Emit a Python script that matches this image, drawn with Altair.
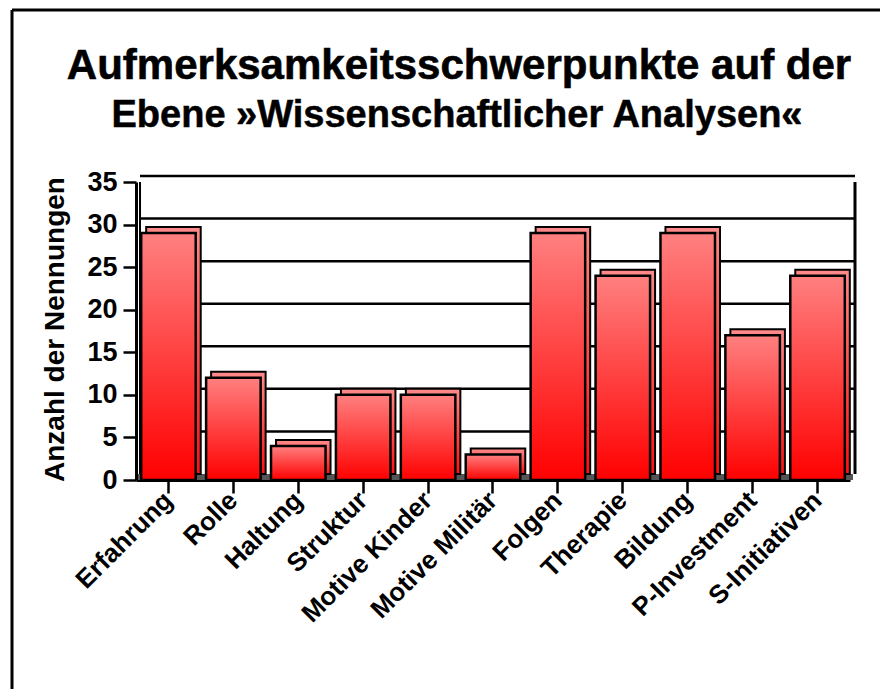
import altair as alt
import pandas as pd

categories = ["Erfahrung", "Rolle", "Haltung", "Struktur", "Motive Kinder",
              "Motive Militär", "Folgen", "Therapie", "Bildung", "P-Investment",
              "S-Initiativen"]
counts = [29, 12, 4, 10, 10, 3, 29, 24, 29, 17, 24]
y_ticks = [0, 5, 10, 15, 20, 25, 30, 35]
grid_vals = [5, 10, 15, 20, 25, 30, 35]
title_line1 = "Aufmerksamkeitsschwerpunkte auf der"
title_line2 = "Ebene »Wissenschaftlicher Analysen«"
y_title = "Anzahl der Nennungen"

FONT = "Liberation Sans"
W, H = 714, 298
DX, DY = 5, -6  # 3D depth offset

df = pd.DataFrame({"Kategorie": categories, "Anzahl": counts})
grid_df = pd.DataFrame({"v": grid_vals})
wall_df = pd.DataFrame({"lo": [0], "hi": [35]})

x_enc = alt.X("Kategorie:N", sort=categories,
              scale=alt.Scale(paddingInner=0.16, paddingOuter=0.08),
              axis=alt.Axis(title=None, labelAngle=-45, labelAlign="right",
                            labelBaseline="middle", labelFontSize=26,
                            labelFont=FONT, labelFontWeight="bold",
                            labelColor="black", labelPadding=3,
                            tickSize=13, tickWidth=2.5, tickColor="black",
                            domainColor="black", domainWidth=3))
y_scale = alt.Scale(domain=[0, 35], nice=False)
y_enc = alt.Y("Anzahl:Q", scale=y_scale,
              axis=alt.Axis(values=y_ticks, title=y_title, grid=False,
                            labelFontSize=27, labelFont=FONT,
                            labelFontWeight="bold", labelColor="black",
                            labelPadding=6, tickSize=13, tickWidth=2.5,
                            tickColor="black", domainColor="black",
                            domainWidth=3, titleFont=FONT, titleFontSize=28,
                            titleFontWeight="bold", titleColor="black",
                            titleX=-67, titleY=147, titleAngle=270,
                            titleBaseline="bottom", titleAlign="center"))

# outer frame (left and top only, as in the reference)
frame_top = alt.Chart(wall_df).mark_rule(color="black", strokeWidth=3).encode(
    x=alt.value(-124), x2=alt.value(W + 40), y=alt.value(-172))
frame_left = alt.Chart(wall_df).mark_rule(color="black", strokeWidth=3).encode(
    x=alt.value(-124), y=alt.value(-172), y2=alt.value(H + 230))

# back wall gridlines
grid = alt.Chart(grid_df).mark_rule(color="black", strokeWidth=2.5, yOffset=DY).encode(
    y=alt.Y("v:Q", scale=y_scale), x=alt.value(DX - 1), x2=alt.value(W + DX))
wall_left = alt.Chart(wall_df).mark_rule(color="black", strokeWidth=2, xOffset=DX - 1, yOffset=DY).encode(
    y=alt.Y("lo:Q", scale=y_scale), y2="hi:Q", x=alt.value(0))
wall_right = alt.Chart(wall_df).mark_rule(color="black", strokeWidth=3, xOffset=DX, yOffset=DY).encode(
    y=alt.Y("lo:Q", scale=y_scale), y2="hi:Q", x=alt.value(W))
floor = alt.Chart(wall_df).mark_rule(color="#555555", strokeWidth=6, yOffset=-3).encode(
    y=alt.Y("lo:Q", scale=y_scale), x=alt.value(2), x2=alt.value(W + 3))

back = alt.Chart(df).mark_bar(
    xOffset=DX, yOffset=DY, stroke="black", strokeWidth=2,
    color=alt.Gradient(gradient="linear",
                       stops=[alt.GradientStop(color="#ff8a8a", offset=0),
                              alt.GradientStop(color="#ff1010", offset=1)],
                       x1=0, x2=0, y1=0, y2=1)
).encode(x=x_enc, y=y_enc)

front = alt.Chart(df).mark_bar(
    stroke="black", strokeWidth=2.5,
    color=alt.Gradient(gradient="linear",
                       stops=[alt.GradientStop(color="#ff8080", offset=0),
                              alt.GradientStop(color="#ff0000", offset=1)],
                       x1=0, x2=0, y1=0, y2=1)
).encode(x=x_enc, y=y_enc)

t1 = alt.Chart(pd.DataFrame({"t": [title_line1]})).mark_text(
    font=FONT, fontSize=42, fontWeight="bold", color="black",
    stroke="black", strokeWidth=0.6,
    align="center", baseline="alphabetic").encode(
    text="t:N", x=alt.value(323), y=alt.value(-103))
t2 = alt.Chart(pd.DataFrame({"t": [title_line2]})).mark_text(
    font=FONT, fontSize=38, fontWeight="bold", color="black",
    stroke="black", strokeWidth=0.5,
    align="center", baseline="alphabetic").encode(
    text="t:N", x=alt.value(321), y=alt.value(-55))

chart = alt.layer(frame_top, frame_left, grid, wall_left, wall_right, floor,
                  back, front, t1, t2).properties(
    width=W, height=H,
    autosize=alt.AutoSizeParams(type="none"),
    padding={"left": 128, "top": 174, "right": 30, "bottom": 209},
    background="white",
).configure_view(strokeWidth=0)

chart.save("out.html", embed_options={"renderer": "svg", "actions": False})
